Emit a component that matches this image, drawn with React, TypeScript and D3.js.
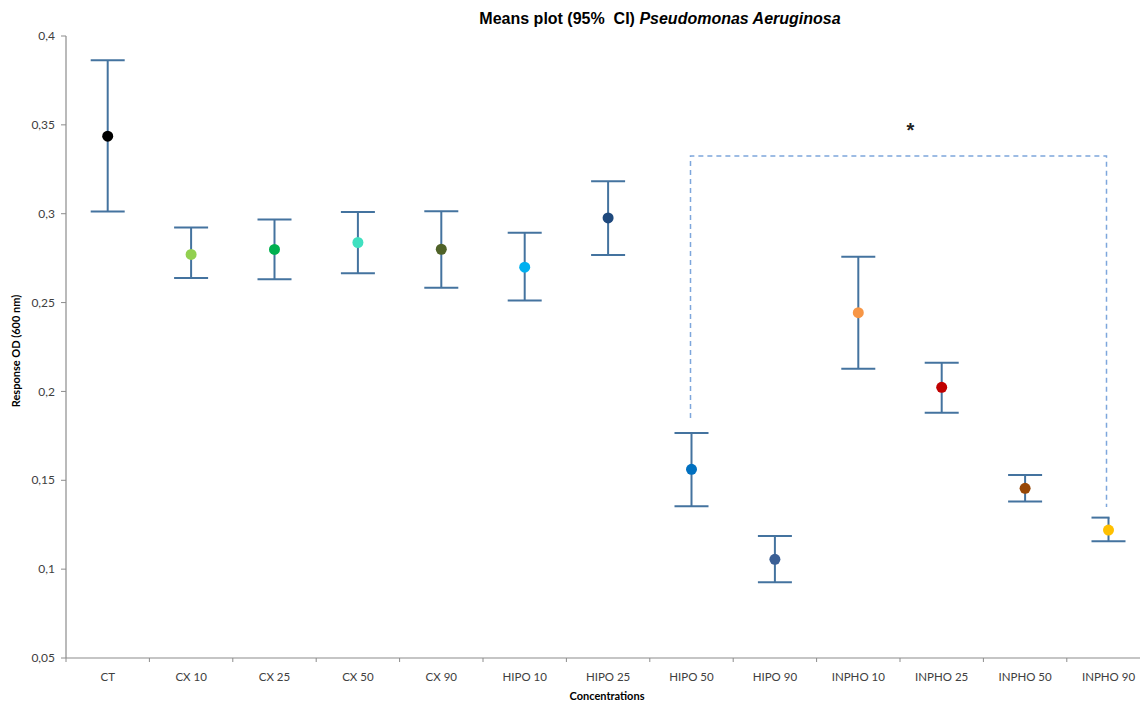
import React from "react";
import * as d3 from "d3";

const categories = ["CT", "CX 10", "CX 25", "CX 50", "CX 90", "HIPO 10", "HIPO 25", "HIPO 50", "HIPO 90", "INPHO 10", "INPHO 25", "INPHO 50", "INPHO 90"];
const means = [0.3436, 0.2771, 0.2799, 0.2838, 0.2800, 0.2699, 0.2976, 0.1562, 0.1055, 0.2443, 0.2023, 0.1455, 0.1220];
const upper = [0.3864, 0.2922, 0.2967, 0.3009, 0.3014, 0.2893, 0.3183, 0.1766, 0.1187, 0.2758, 0.2162, 0.1530, 0.1290];
const lower = [0.3013, 0.2638, 0.2631, 0.2665, 0.2584, 0.2511, 0.2768, 0.1354, 0.0926, 0.2128, 0.1880, 0.1380, 0.1157];
const pointColors = ["#000000", "#92d050", "#00b050", "#40e0c0", "#4f6228", "#00b0f0", "#1f497d", "#0070c0", "#3a5f95", "#f79646", "#c00000", "#974706", "#ffc000"];
const yTicks = [0.05, 0.1, 0.15, 0.2, 0.25, 0.3, 0.35, 0.4];
const yTickLabels = ["0,05", "0,1", "0,15", "0,2", "0,25", "0,3", "0,35", "0,4"];
// significance bracket: from HIPO 50 to INPHO 90
const bracketFrom = "HIPO 50";
const bracketTo = "INPHO 90";
const bracketTop = 0.3325;
const bracketLeftEnd = 0.185;
const bracketRightEnd = 0.135;

export default function App() {
  const W = 1140, H = 701;
  const left = 66, top = 36, bottom = 658;
  const band = 83.4;
  const x = d3.scaleBand<string>().domain(categories).range([left, left + band * categories.length]).padding(0);
  const y = d3.scaleLinear().domain([0.05, 0.4]).range([bottom, top]);
  const cx = (c: string) => (x(c) as number) + x.bandwidth() / 2;
  const barColor = "#44739f";
  const axisColor = "#8c8c8c";
  const capHalf = 17;
  const font = "Lato, 'Open Sans', sans-serif";

  const bx1 = cx(bracketFrom) - 1;
  const bx2 = cx(bracketTo) - 2;
  const by = y(bracketTop);

  return (
    <svg width={W} height={H} style={{ position: "absolute", left: 0, top: 0, background: "#fff" }}>
      {/* title */}
      <text x={660} y={24} textAnchor="middle" fontFamily="'Liberation Sans', Arial, sans-serif" fontSize={16} fontWeight="bold" fill="#000" style={{ whiteSpace: "pre" }}>
        {"Means plot (95%  CI) "}<tspan fontStyle="italic">Pseudomonas Aeruginosa</tspan>
      </text>

      {/* y axis */}
      <line x1={left} x2={left} y1={top} y2={bottom} stroke={axisColor} strokeWidth={1.2} />
      {yTicks.map((t, i) => (
        <g key={i}>
          <line x1={left - 5} x2={left} y1={y(t)} y2={y(t)} stroke={axisColor} strokeWidth={1} />
          <text x={left - 11} y={y(t)} dy="0.35em" textAnchor="end" fontFamily={font} fontSize={12} fill="#404040">{yTickLabels[i]}</text>
        </g>
      ))}
      <text transform={`translate(20,${351}) rotate(-90)`} textAnchor="middle" fontFamily={font} fontSize={11} fontWeight="bold" fill="#000">Response OD (600 nm)</text>

      {/* x axis */}
      <line x1={left} x2={W} y1={bottom} y2={bottom} stroke={axisColor} strokeWidth={1.2} />
      {d3.range(categories.length + 1).map((i) => {
        const tx = left + i * x.step();
        return <line key={i} x1={tx} x2={tx} y1={bottom} y2={bottom + 4} stroke={axisColor} strokeWidth={1} />;
      })}
      {categories.map((c) => (
        <text key={c} x={cx(c)} y={677} dy="0.35em" textAnchor="middle" fontFamily={font} fontSize={11.5} fill="#404040">{c}</text>
      ))}
      <text x={607} y={696} dy="0.35em" textAnchor="middle" fontFamily={font} fontSize={11} fontWeight="bold" fill="#000">Concentrations</text>

      {/* bracket */}
      <path
        d={`M${bx1},${y(bracketLeftEnd)} V${by} H${bx2} V${y(bracketRightEnd)}`}
        fill="none" stroke="#7ea6dc" strokeWidth={1.5} strokeDasharray="5,4" />
      <text x={(bx1 + bx2) / 2 + 12} y={by - 26} dominantBaseline="central" textAnchor="middle" fontFamily="'Liberation Sans', Arial, sans-serif" fontSize={20} fontWeight="bold" fill="#222">*</text>

      {/* error bars */}
      {categories.map((c, i) => {
        const px = cx(c);
        const isLast = c === bracketTo;
        return (
          <g key={c} stroke={barColor} strokeWidth={2}>
            <line x1={px} x2={px} y1={y(upper[i])} y2={y(lower[i])} />
            <line x1={px - capHalf} x2={isLast ? px + 1 : px + capHalf} y1={y(upper[i])} y2={y(upper[i])} />
            <line x1={px - capHalf} x2={px + capHalf} y1={y(lower[i])} y2={y(lower[i])} />
          </g>
        );
      })}
      {categories.map((c, i) => (
        <circle key={c} cx={cx(c)} cy={y(means[i])} r={5.5} fill={pointColors[i]} />
      ))}
    </svg>
  );
}
